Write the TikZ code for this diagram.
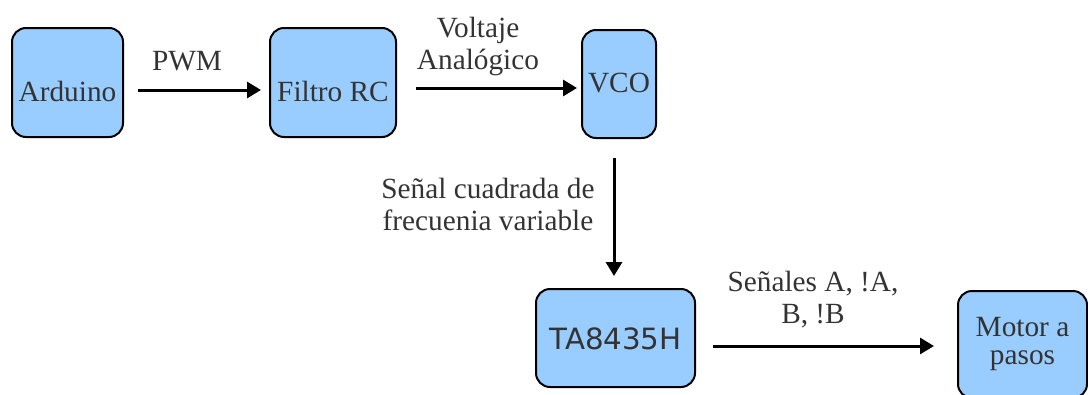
\documentclass[tikz,border=0pt]{standalone}
\usepackage{fontspec}
\setmainfont{Liberation Serif}
\newfontfamily\dejavu{DejaVu Sans}
\usetikzlibrary{arrows.meta}
\definecolor{boxblue}{HTML}{99CCFF}
\definecolor{txtgray}{HTML}{333333}
\tikzset{
  blk/.style={draw=black, line width=2pt, fill=boxblue, rounded corners=14pt,
    text=txtgray, font=\fontsize{29.3}{28}\selectfont, inner sep=0pt, align=center},
  lbl/.style={text=txtgray, font=\fontsize{29.3}{32}\selectfont, inner sep=0pt, align=center},
  conn/.style={line width=3pt, -{Triangle[length=14pt,width=16pt]}}
}
\begin{document}
\begin{tikzpicture}[x=1pt,y=-1pt]
\useasboundingbox (0,0) rectangle (1088,394);
\node[blk, minimum width=111pt, minimum height=109pt, text height=41pt, text depth=2.4pt] (ard) at (67.5,82.5) {Arduino};
\node[blk, minimum width=126pt, minimum height=109pt, text height=41pt, text depth=2.4pt] (flt) at (333,82.5) {Filtro RC};
\node[blk, minimum width=74pt, minimum height=108pt, text height=20pt, text depth=2.4pt] (vco) at (619,84) {VCO};
\node[blk, minimum width=159pt, minimum height=98pt, text height=22pt, text depth=0pt, font=\dejavu\fontsize{29.3}{32}\selectfont] (ta) at (615.5,338) {TA8435H};
\node[blk, minimum width=129pt, minimum height=107pt] (mot) at (1022.5,344.5) {Motor a\\pasos};

\node[lbl] (lpwm) at (187,61) {PWM};
\node[lbl] (lvolt) at (478,46) {Voltaje\\Analógico};
\node[lbl] (lsen) at (488,204) {Señal cuadrada de\\frecuenia variable};
\node[lbl] (lsab) at (813,300) {Señales A, !A,\\B, !B};

\draw[conn, shorten <=14pt, shorten >=8pt] ([yshift=-7.5pt]ard.east) -- ([yshift=-7.5pt]flt.west);
\draw[conn, shorten <=19pt, shorten >=4pt] ([yshift=-5.5pt]flt.east) -- ([yshift=-5.5pt]flt.east -| vco.west);
\draw[conn, shorten <=19pt, shorten >=12pt] ([xshift=-5pt]vco.south) -- ([xshift=-5pt]vco.south |- ta.north);
\draw[conn, shorten <=17pt, shorten >=23pt] ([yshift=-8pt]ta.east) -- ([yshift=-8pt]ta.east -| mot.west);
\end{tikzpicture}
\end{document}
